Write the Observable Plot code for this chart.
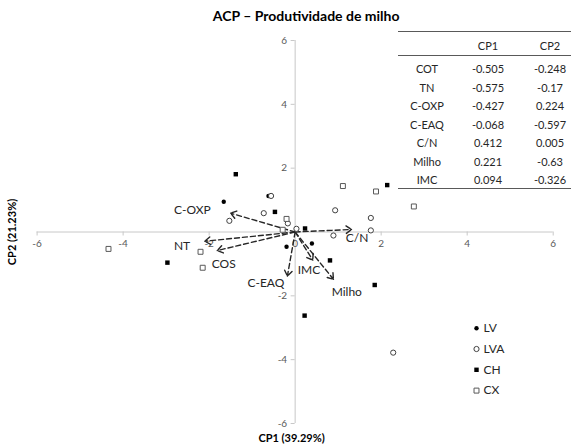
<!DOCTYPE html>
<html><head><meta charset="utf-8">
<script src="https://cdn.jsdelivr.net/npm/d3@7"></script>
<script src="https://cdn.jsdelivr.net/npm/@observablehq/plot@0.6"></script>
<style>
body{margin:0;background:#fff;}
#wrap{position:relative;width:571px;height:445px;font-family:Lato,"Open Sans",sans-serif;}
.cell{position:absolute;width:64px;height:14px;line-height:14px;text-align:center;font-size:11px;color:#262626;white-space:nowrap;}
.hl{position:absolute;left:0;width:173px;height:0;border-top:1px solid #595959;}
</style>
</head><body>
<div id="wrap"></div>
<script>
const title = "ACP – Produtividade de milho";
const xTitle = "CP1 (39.29%)";
const yTitle = "CP2 (21.23%)";
const xTickValues = [-6, -4, -2, 0, 2, 4, 6];
const yTickValues = [-6, -4, -2, 2, 4, 6];

// Scores (groups)
const groupNames = ["LV", "LVA", "CH", "CX"];
const lvX = [-0.62, -1.66, -0.20, 0.39];
const lvY = [1.13, 0.95, -0.46, -0.36];
const lvaX = [-0.56, -0.73, -1.53, -0.17, 0.03, 0.93, 1.76, 1.76, 0.89, 2.28];
const lvaY = [1.13, 0.59, 0.35, 0.27, 0.10, 0.68, 0.44, 0.05, -0.11, -3.78];
const chX = [-1.38, -0.47, 0.23, -2.97, 0.81, 1.85, 0.22, 2.14];
const chY = [1.81, 0.63, 0.11, -0.96, -0.89, -1.66, -2.62, 1.47];
const cxX = [1.11, 1.88, 2.76, -0.20, -0.29, -2.20, -2.15, -4.34];
const cxY = [1.44, 1.27, 0.80, 0.41, 0.07, -0.62, -1.12, -0.53];

// Loadings table
const variables = ["COT", "TN", "C-OXP", "C-EAQ", "C/N", "Milho", "IMC"];
const loadCP1 = ["-0.505", "-0.575", "-0.427", "-0.068", "0.412", "0.221", "0.094"];
const loadCP2 = ["-0.248", "-0.17", "0.224", "-0.597", "0.005", "-0.63", "-0.326"];

// Arrows (tips) and their labels
const arrowNames = ["C-OXP", "NT", "COS", "C-EAQ", "C/N", "IMC", "Milho"];
const arrowTipX = [-1.50, -2.10, -1.81, -0.18, 1.31, 0.41, 0.89];
const arrowTipY = [0.59, -0.29, -0.58, -1.38, 0.08, -0.88, -1.48];
const arrowLabelX = [-2.39, -2.63, -1.66, -0.68, 1.44, 0.32, 1.20];
const arrowLabelY = [0.69, -0.43, -1.02, -1.61, -0.18, -1.19, -1.88];

const toPts = (xs, ys) => xs.map((x, i) => ({x, y: ys[i]}));
const lv = toPts(lvX, lvY), lva = toPts(lvaX, lvaY), ch = toPts(chX, chY), cx = toPts(cxX, cxY);
const arrows = arrowNames.map((n, i) => ({n, x: arrowTipX[i], y: arrowTipY[i], lx: arrowLabelX[i], ly: arrowLabelY[i]}));

const styles = {
  LV: {symbol: "circle", r: 2.2, fill: "#000", stroke: "none"},
  LVA: {symbol: "circle", r: 2.6, fill: "#fff", stroke: "#404040", strokeWidth: 1},
  CH: {symbol: "square", r: 2.5, fill: "#000", stroke: "none"},
  CX: {symbol: "square", r: 2.8, fill: "#fff", stroke: "#595959", strokeWidth: 1}
};
const axisColor = "#c8c8c8";
const font = "Lato, 'Open Sans', sans-serif";

const legendMarks = groupNames.flatMap((g, i) => [
  Plot.dot([g], {frameAnchor: "top-left", dx: 439.4, dy: 287.7 + i * 20.8, ...styles[g]}),
  Plot.text([g], {frameAnchor: "top-left", dx: 446.5, dy: 287.7 + i * 20.8, text: d => d, textAnchor: "start", lineAnchor: "middle", fontSize: 12, fill: "#262626"})
]);

const chart = Plot.plot({
  width: 571, height: 445,
  marginLeft: 36.6, marginRight: 18.3, marginTop: 40, marginBottom: 22,
  x: {domain: [-6, 6], axis: null},
  y: {domain: [-6, 6], axis: null},
  style: {fontFamily: font, background: "#fff", overflow: "visible"},
  marks: [
    Plot.ruleY([0], {stroke: axisColor}),
    Plot.ruleX([0], {stroke: axisColor}),
    Plot.ruleX(xTickValues, {x: d => d, y1: 0, y2: 0, insetBottom: -4, stroke: axisColor}),
    Plot.ruleY(yTickValues, {y: d => d, x1: 0, x2: 0, insetLeft: -4, stroke: axisColor}),
    Plot.text(xTickValues, {x: d => d, y: 0, dy: 12, text: d => String(d), fontSize: 10, fill: "#595959"}),
    Plot.text(yTickValues, {x: 0, y: d => d, dx: -8, textAnchor: "end", text: d => String(d), fontSize: 10, fill: "#595959"}),
    Plot.arrow(arrows, {x1: 0, y1: 0, x2: "x", y2: "y", headLength: 7, headAngle: 70, stroke: "#262626", strokeWidth: 1.4, strokeDasharray: "5,3"}),
    Plot.text(arrows, {x: "lx", y: "ly", text: "n", fontSize: 12, fill: "#262626"}),
    Plot.dot(lv, {x: "x", y: "y", ...styles.LV}),
    Plot.dot(lva, {x: "x", y: "y", ...styles.LVA}),
    Plot.dot(ch, {x: "x", y: "y", ...styles.CH}),
    Plot.dot(cx, {x: "x", y: "y", ...styles.CX}),
    ...legendMarks,
    Plot.text([title], {frameAnchor: "top", dx: 11, dy: -24, lineAnchor: "middle", text: d => d, fontSize: 14, fontWeight: "bold", fill: "#000"}),
    Plot.text([xTitle], {frameAnchor: "bottom", dx: -3.6, dy: 15, lineAnchor: "middle", text: d => d, fontSize: 11, fontWeight: "bold", fill: "#000"}),
    Plot.text([yTitle], {frameAnchor: "left", dx: -24.6, dy: 0, rotate: -90, textAnchor: "middle", lineAnchor: "middle", text: d => d, fontSize: 11, fontWeight: "bold", fill: "#000"})
  ]
});

const wrap = document.getElementById("wrap");
wrap.appendChild(chart);

// Loadings table overlay
const tbl = document.createElement("div");
tbl.style.cssText = "position:absolute;left:398px;top:31px;width:173px;height:160px;";
const colCenters = [29, 90, 152];
const addCell = (txt, col, cy) => {
  const d = document.createElement("div");
  d.className = "cell";
  d.textContent = txt;
  d.style.left = (colCenters[col] - 32) + "px";
  d.style.top = (cy - 7) + "px";
  tbl.appendChild(d);
};
const addLine = (top) => {
  const l = document.createElement("div");
  l.className = "hl";
  l.style.top = top + "px";
  tbl.appendChild(l);
};
addLine(0);
addCell("CP1", 1, 15);
addCell("CP2", 2, 15);
addLine(24);
variables.forEach((v, i) => {
  const cy = 38 + i * 18.5;
  addCell(v, 0, cy);
  addCell(loadCP1[i], 1, cy);
  addCell(loadCP2[i], 2, cy);
});
addLine(157);
wrap.appendChild(tbl);
</script>
</body></html>
